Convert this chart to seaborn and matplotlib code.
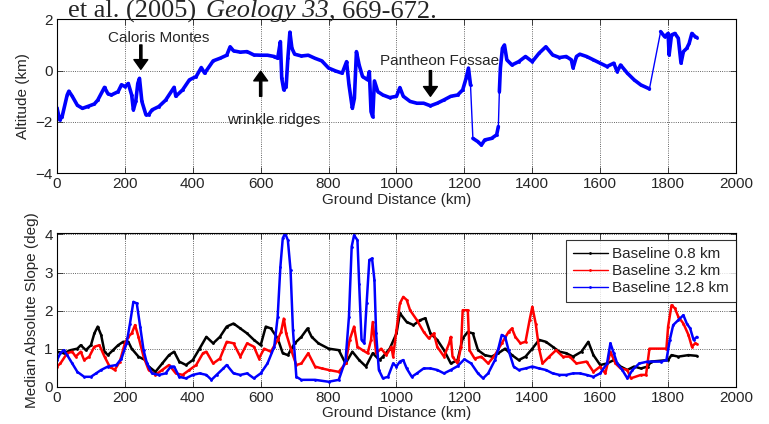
import numpy as np
import pandas as pd
import matplotlib
matplotlib.use('Agg')
import matplotlib.pyplot as plt
import seaborn as sns

# ---- altitude profile (km) along ground distance (km)
dist_top = [0, 8, 15, 30, 35, 45, 60, 75, 90, 110, 120, 140, 150, 160, 180, 190, 200, 210,
            220, 225, 232, 238, 243, 250, 262, 270, 280, 300, 320, 340, 345, 350, 370, 390,
            410, 425, 435, 460, 480, 500, 510, 520, 540, 560, 580, 600, 620, 640, 650, 658,
            662, 668, 675, 680, 686, 692, 700, 720, 740, 760, 780, 800, 820, 840, 853, 860,
            870, 876, 882, 890, 900, 915, 920, 925, 930, 935, 945, 960, 980, 1000, 1010, 1020,
            1040, 1060, 1080, 1100, 1120, 1140, 1160, 1180, 1195, 1205, 1212, 1218,
            1225, 1240, 1250, 1260, 1280, 1295, 1300,
            1303, 1306, 1312, 1318, 1325, 1340, 1360, 1380, 1400, 1420, 1440, 1460, 1480, 1500,
            1515, 1520, 1530, 1540, 1560, 1580, 1600, 1620, 1640, 1650, 1660, 1680, 1700, 1720,
            1745,
            1778, 1790, 1800, 1803, 1810, 1820, 1830, 1838, 1845, 1855, 1862, 1870, 1880, 1885]
alt_top = [-1.45, -1.92, -1.8, -0.95, -0.8, -1.0, -1.35, -1.47, -1.4, -1.3, -1.15, -0.65, -0.9,
           -0.95, -0.82, -0.55, -0.62, -0.5, -0.95, -1.53, -1.2, -0.5, -0.3, -1.2, -1.72, -1.72,
           -1.53, -1.4, -1.15, -0.75, -0.65, -1.0, -0.75, -0.36, -0.23, 0.12, -0.1, 0.38, 0.48,
           0.6, 0.93, 0.77, 0.72, 0.74, 0.61, 0.6, 0.6, 0.55, 0.48, 1.13, -0.3, -0.75, -0.62,
           0.48, 1.5, 0.87, 0.64, 0.57, 0.6, 0.48, 0.38, 0.1, -0.01, -0.1, 0.35, -0.55, -1.47,
           -1.08, 0.74, 0.22, -0.23, -0.36, -0.04, -1.6, -1.8, -0.4, -0.82, -0.95, -1.05, -1.0,
           -0.66, -1.0, -1.2, -1.27, -1.27, -1.37, -1.27, -1.14, -1.0, -0.95, -0.75, -0.3, 0.1,
           -0.56,
           -2.64, -2.77, -2.9, -2.7, -2.64, -2.5, -2.18,
           -0.82, 0.1, 0.87, 1.0, 0.42, 0.22, 0.35, 0.55, 0.35, 0.68, 0.93, 0.61, 0.51, 0.55,
           0.42, 0.1, 0.55, 0.64, 0.55, 0.42, 0.29, 0.16, 0.29, -0.04, 0.22, -0.1, -0.36, -0.56,
           -0.71,
           1.52, 1.32, 1.45, 0.61, 1.39, 1.45, 1.26, 0.29, 0.74, 0.87, 1.06, 1.45, 1.32, 1.29]
# data gaps along the track (drawn as a thin line only)
gap_at = [1221, 1302, 1760]

# ---- median absolute slope (deg) for three baselines
dist_k = [0, 20, 40, 60, 70, 85, 100, 110, 120, 130, 140, 150, 165, 180, 195, 210, 220, 240,
          260, 270, 290, 310, 330, 345, 360, 380, 400, 420, 440, 460, 480, 500, 520, 540, 560,
          580, 600, 615, 630, 650, 665, 680, 700, 720, 738, 750, 770, 800, 830, 850, 870, 890,
          910, 930, 950, 960, 980, 1000, 1010, 1030, 1050, 1070, 1085, 1100, 1120, 1140, 1160,
          1180, 1195, 1210, 1225, 1240, 1260, 1280, 1300, 1320, 1340, 1360, 1380, 1400, 1420,
          1440, 1460, 1480, 1500, 1520, 1545, 1565, 1580, 1600, 1620, 1640, 1660, 1680, 1700,
          1720, 1740, 1750, 1800, 1810, 1830, 1860, 1885]
slope_k = [0.92, 0.88, 0.96, 1.0, 1.09, 0.96, 1.09, 1.4, 1.58, 1.36, 0.92, 0.83, 0.96, 1.09,
           1.18, 1.18, 1.0, 0.79, 0.7, 0.53, 0.39, 0.61, 0.83, 0.92, 0.66, 0.57, 0.7, 1.0, 1.31,
           1.14, 1.31, 1.58, 1.66, 1.53, 1.4, 1.23, 1.09, 1.58, 1.53, 1.27, 0.88, 0.83, 1.14,
           1.31, 1.53, 1.31, 1.14, 1.0, 0.96, 0.61, 0.92, 0.7, 0.53, 0.88, 0.7, 0.79, 1.0, 1.4,
           1.93, 1.7, 1.62, 1.75, 1.8, 1.4, 1.23, 0.96, 0.61, 0.7, 1.27, 1.44, 1.4, 0.96, 0.83,
           0.79, 0.88, 1.0, 0.83, 0.7, 0.79, 1.0, 1.23, 1.18, 1.05, 0.92, 0.88, 0.79, 0.92, 1.18,
           0.83, 0.57, 0.61, 0.7, 0.53, 0.44, 0.53, 0.48, 0.53, 0.66, 0.7, 0.83, 0.79, 0.83, 0.81]

dist_r = [0, 10, 30, 45, 55, 70, 80, 95, 110, 125, 140, 155, 170, 185, 200, 210, 220, 230,
          240, 255, 270, 290, 310, 330, 350, 370, 390, 410, 430, 440, 460, 480, 500, 520, 540,
          560, 580, 595, 610, 630, 650, 660, 668, 675, 690, 705, 720, 740, 760, 780, 800, 830,
          850, 862, 875, 885, 900, 915, 925, 930, 940, 955, 970, 985, 990, 1000, 1010, 1020,
          1030, 1040, 1060, 1080, 1095, 1110, 1120, 1140, 1155, 1160, 1165, 1180, 1190, 1195,
          1210, 1215, 1230, 1250, 1270, 1290, 1310, 1330, 1340, 1350, 1365, 1380, 1392, 1400,
          1410, 1420, 1430, 1450, 1470, 1490, 1510, 1530, 1560, 1580, 1600, 1615, 1630, 1645,
          1660, 1680, 1690, 1720, 1735, 1745, 1795, 1800, 1810, 1820, 1830, 1845, 1860, 1870,
          1880, 1885]
slope_r = [0.53, 0.61, 0.88, 0.92, 0.79, 0.92, 0.7, 0.79, 1.05, 1.09, 0.79, 0.53, 0.44, 0.66,
           1.14, 1.31, 1.4, 1.62, 1.31, 0.79, 0.44, 0.31, 0.44, 0.57, 0.35, 0.31, 0.44, 0.57,
           0.88, 0.92, 0.61, 0.74, 1.18, 1.14, 0.79, 1.14, 1.05, 0.74, 1.0, 0.92, 1.23, 1.44,
           1.79, 1.4, 0.96, 0.57, 0.61, 0.88, 0.53, 0.48, 0.44, 0.39, 0.61, 1.23, 1.58, 1.05,
           0.96, 0.88, 1.23, 1.7, 0.88, 1.0, 0.83, 1.05, 0.79, 1.49, 2.19, 2.36, 2.28, 2.01,
           1.75, 1.44, 1.27, 1.4, 1.05, 0.79, 1.14, 1.31, 0.79, 0.61, 1.05, 2.01, 2.01, 0.96,
           0.74, 0.79, 0.61, 0.83, 1.14, 1.44, 1.53, 1.31, 1.14, 1.18, 1.75, 2.1, 1.66, 1.0,
           0.61, 0.79, 0.96, 0.79, 0.79, 0.61, 0.66, 0.39, 0.53, 0.35, 0.92, 0.61, 0.48, 0.44,
           0.22, 0.31, 0.31, 1.0, 1.0, 1.58, 2.14, 2.06, 1.84, 1.66, 1.36, 1.05, 1.14, 1.12]

dist_b = [0, 10, 20, 30, 45, 60, 80, 100, 115, 130, 150, 175, 190, 205, 215, 225, 235, 245,
          255, 265, 280, 300, 320, 335, 345, 360, 380, 400, 420, 440, 455, 470, 490, 500, 520,
          540, 560, 580, 600, 620, 640, 650, 658, 665, 672, 680, 688, 695, 705, 720, 760, 800,
          830, 850, 860, 868, 875, 885, 890, 897, 905, 912, 920, 928, 935, 940, 948, 960, 975,
          990, 1000, 1010, 1020, 1030, 1045, 1060, 1080, 1100, 1120, 1140, 1160, 1180, 1200,
          1220, 1240, 1255, 1270, 1290, 1300, 1310, 1320, 1330, 1345, 1360, 1380, 1400, 1420,
          1440, 1460, 1480, 1500, 1520, 1540, 1560, 1580, 1600, 1620, 1630, 1640, 1650, 1665,
          1680, 1695, 1715, 1740, 1780, 1795, 1805, 1815, 1830, 1845, 1855, 1865, 1875, 1885]
slope_b = [0.7, 0.88, 0.96, 0.83, 0.61, 0.39, 0.26, 0.26, 0.35, 0.44, 0.53, 0.57, 0.74, 1.14,
           1.66, 2.23, 2.19, 1.58, 0.96, 0.61, 0.35, 0.31, 0.35, 0.53, 0.53, 0.26, 0.22, 0.31,
           0.35, 0.31, 0.18, 0.31, 0.48, 0.57, 0.35, 0.31, 0.35, 0.22, 0.35, 0.61, 1.05, 1.84,
           3.15, 3.9, 4.03, 3.85, 3.06, 1.49, 0.26, 0.18, 0.18, 0.13, 0.18, 0.7, 1.84, 3.68,
           3.98, 3.85, 2.71, 1.23, 1.14, 2.19, 3.33, 3.37, 2.8, 1.4, 0.44, 0.22, 0.26, 0.61,
           0.53, 0.66, 0.7, 0.48, 0.26, 0.35, 0.48, 0.48, 0.44, 0.35, 0.44, 0.54, 0.72, 0.61,
           0.35, 0.22, 0.35, 0.7, 1.0, 1.36, 1.31, 0.96, 0.53, 0.44, 0.48, 0.53, 0.48, 0.44,
           0.35, 0.31, 0.31, 0.35, 0.35, 0.31, 0.26, 0.35, 0.61, 1.14, 0.88, 0.61, 0.44, 0.22,
           0.44, 0.61, 0.66, 0.66, 0.7, 1.23, 1.62, 1.75, 1.88, 1.66, 1.53, 1.23, 1.31]

baselines = ['Baseline 0.8 km', 'Baseline 3.2 km', 'Baseline 12.8 km']

sns.set_style('ticks')
plt.rcParams['font.family'] = ['Liberation Sans', 'DejaVu Sans']
plt.rcParams['font.size'] = 11
plt.rcParams['xtick.direction'] = 'in'
plt.rcParams['ytick.direction'] = 'in'

fig = plt.figure(figsize=(7.69, 4.24), dpi=100)
ax1 = fig.add_axes([0.0741, 0.5913, 0.8830, 0.3632])
ax2 = fig.add_axes([0.0741, 0.0880, 0.8830, 0.3617])

# top panel: altitude profile
top = pd.DataFrame({'dist': dist_top, 'alt': alt_top})
top['seg'] = np.searchsorted(gap_at, top['dist'])
sns.lineplot(data=top, x='dist', y='alt', color='#0000ff', linewidth=1.0,
             estimator=None, sort=False, ax=ax1)
sns.lineplot(data=top, x='dist', y='alt', units='seg', estimator=None, sort=False,
             color='#0000ff', linewidth=2.6, marker='.', markersize=4,
             markeredgewidth=0, ax=ax1)

arrow = dict(facecolor='k', edgecolor='k', width=1.6, headwidth=10, headlength=7, shrink=0)
ax1.annotate('', xy=(247, 0.05), xytext=(247, 1.0), arrowprops=arrow)
ax1.annotate('', xy=(600, -0.02), xytext=(600, -1.0), arrowprops=arrow)
ax1.annotate('', xy=(1100, -1.0), xytext=(1100, 0.0), arrowprops=arrow)
ax1.text(300, 1.26, 'Caloris Montes', ha='center', va='center', fontsize=11)
ax1.text(638, -1.92, 'wrinkle ridges', ha='center', va='center', fontsize=11)
ax1.text(1126, 0.38, 'Pantheon Fossae', ha='center', va='center', fontsize=11)

ax1.set_xlim(0, 2000)
ax1.set_ylim(-4, 2)
ax1.set_yticks([-4, -2, 0, 2])
ax1.set_ylabel('Altitude (km)')

# bottom panel: slopes
slopes = pd.concat([
    pd.DataFrame({'dist': dist_k, 'slope': slope_k, 'baseline': baselines[0]}),
    pd.DataFrame({'dist': dist_r, 'slope': slope_r, 'baseline': baselines[1]}),
    pd.DataFrame({'dist': dist_b, 'slope': slope_b, 'baseline': baselines[2]}),
])
sns.lineplot(data=slopes, x='dist', y='slope', hue='baseline', hue_order=baselines,
             palette=['k', '#ff0000', '#0000ff'], estimator=None, sort=False,
             linewidth=1.8, marker='.', markersize=4, markeredgewidth=0, ax=ax2)
ax2.set_xlim(0, 2000)
ax2.set_ylim(0, 4.03)
ax2.set_yticks([0, 1, 2, 3, 4])
ax2.set_ylabel('Median Absolute Slope (deg)')

leg = ax2.legend(loc='upper right', bbox_to_anchor=(1.0, 0.955), borderaxespad=0,
                 frameon=True, fancybox=False, edgecolor='k', fontsize=11,
                 handlelength=2.3, handletextpad=0.3, borderpad=0.45, labelspacing=0.2)
leg.get_frame().set_linewidth(0.8)
for ln in leg.get_lines():
    ln.set_linewidth(1.0)

for ax in (ax1, ax2):
    ax.set_xticks(np.arange(0, 2001, 200))
    ax.set_xlabel('Ground Distance (km)', labelpad=1)
    ax.grid(True, linestyle=':', color='k', linewidth=0.6, alpha=0.8)
    ax.tick_params(top=True, right=True, length=4, width=0.6, labelsize=11, pad=3)
    for sp in ax.spines.values():
        sp.set_visible(True)
        sp.set_color('k')
        sp.set_linewidth(0.8)

# citation line cut off at the top of the page; pieces placed one after another
r = fig.canvas.get_renderer()
W = fig.bbox.width
x = 68
pieces = [('et al. (2005)', 'normal', 10), ('Geology 33', 'italic', 0), (', 669-672.', 'normal', 0)]
for txt, st, gap in pieces:
    t = fig.text(x / W, 1 - 17.3 / 424, txt, family='Liberation Serif', style=st,
                 fontsize=19, va='baseline', ha='left')
    x = t.get_window_extent(r).x1 + gap

fig.savefig('out.png', dpi=100)
